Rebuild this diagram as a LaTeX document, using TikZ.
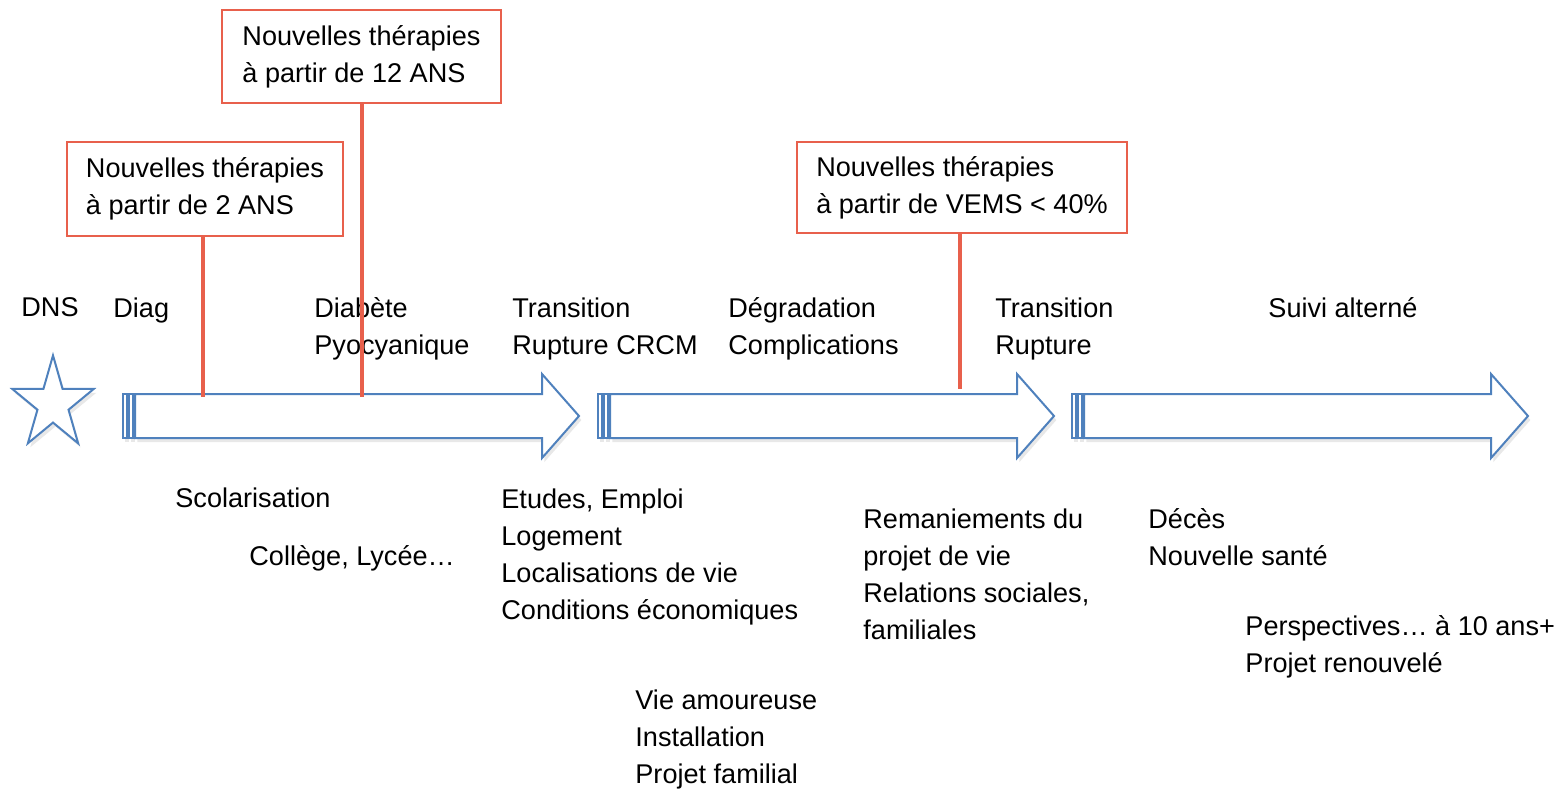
\documentclass[tikz,border=0pt]{standalone}
\usepackage{fontspec}
\setmainfont{Liberation Sans}
\usetikzlibrary{shapes.geometric,shadows}

\definecolor{arrowblue}{HTML}{4F81BD}
\definecolor{therared}{HTML}{E8604C}

\tikzset{
  lbl/.style={anchor=north west, inner sep=0pt, align=left,
    font=\fontsize{13.55}{18.5}\selectfont},
  therabox/.style={draw=therared, line width=0.8pt, fill=white, inner xsep=8pt,
    align=left, font=\fontsize{13.55}{18.5}\selectfont},
  theraline/.style={draw=therared, line width=1.6pt},
  arrowpart/.style={draw=arrowblue, line width=1pt, fill=white, line join=miter,
    drop shadow={opacity=0.18, shadow xshift=1.2pt, shadow yshift=-2pt}},
  stripedarrow/.pic={
    \path[arrowpart] (0,-22) rectangle (3.5,22);
    \path[arrowpart] (5.5,-22) rectangle (10,22);
    \path[arrowpart] (12,-22) -- (419,-22) -- (419,-42) -- (456,0)
      -- (419,42) -- (419,22) -- (12,22) -- cycle;
  }
}

\begin{document}
\begin{tikzpicture}[x=0.5pt,y=-0.5pt]
\useasboundingbox (0,0) rectangle (1566,788);

% time line
\node[star, star points=5, star point ratio=2.618, minimum size=48.6pt, inner sep=0pt,
  draw=arrowblue, line width=1pt, fill=white, transform shape, xscale=0.88,
  drop shadow={opacity=0.18, shadow xshift=1.2pt, shadow yshift=-2pt}] (dns star) at (53,404) {};
\pic at (123,416) {stripedarrow};
\pic at (598,416) {stripedarrow};
\pic at (1072,416) {stripedarrow};

% stages above the arrows
\node[lbl] (dns) at (21,297) {DNS};
\node[lbl] (diag) at (113,297) {Diag};
\node[lbl] (diabete) at (314,297) {Diabète\\Pyocyanique};
\node[lbl] (transition1) at (512,297) {Transition\\Rupture CRCM};
\node[lbl] (degradation) at (728,297) {Dégradation\\Complications};
\node[lbl] (transition2) at (995,297) {Transition\\Rupture};
\node[lbl] (suivi) at (1268,297) {Suivi alterné};

% life events below the arrows
\node[lbl] (scolarisation) at (175,487) {Scolarisation};
\node[lbl] (college) at (249,545) {Collège, Lycée…};
\node[lbl] (etudes) at (501,488) {Etudes, Emploi\\Logement\\Localisations de vie\\Conditions économiques};
\node[lbl] (amour) at (635,689) {Vie amoureuse\\Installation\\Projet familial};
\node[lbl] (remaniements) at (863,508) {Remaniements du\\projet de vie\\Relations sociales,\\familiales};
\node[lbl] (deces) at (1148,508) {Décès\\Nouvelle santé};
\node[lbl] (perspectives) at (1245,615) {Perspectives… à 10 ans+\\Projet renouvelé};

% new therapies
\node[therabox, minimum width=138pt, minimum height=47pt] (thera2) at (205,189) {Nouvelles thérapies\\à partir de 2 ANS};
\node[therabox, minimum width=139.5pt, minimum height=46.5pt] (thera12) at (361.5,56.5) {Nouvelles thérapies\\à partir de 12 ANS};
\node[therabox, minimum width=165pt, minimum height=45.5pt] (theravems) at (962,187.5) {Nouvelles thérapies\\à partir de VEMS < 40\%};
\coordinate (t2) at (203,397);
\coordinate (t12) at (362,397);
\coordinate (tvems) at (960,389);
\draw[theraline] (t2 |- thera2.south) -- (t2);
\draw[theraline] (t12 |- thera12.south) -- (t12);
\draw[theraline] (tvems |- theravems.south) -- (tvems);
\end{tikzpicture}
\end{document}
